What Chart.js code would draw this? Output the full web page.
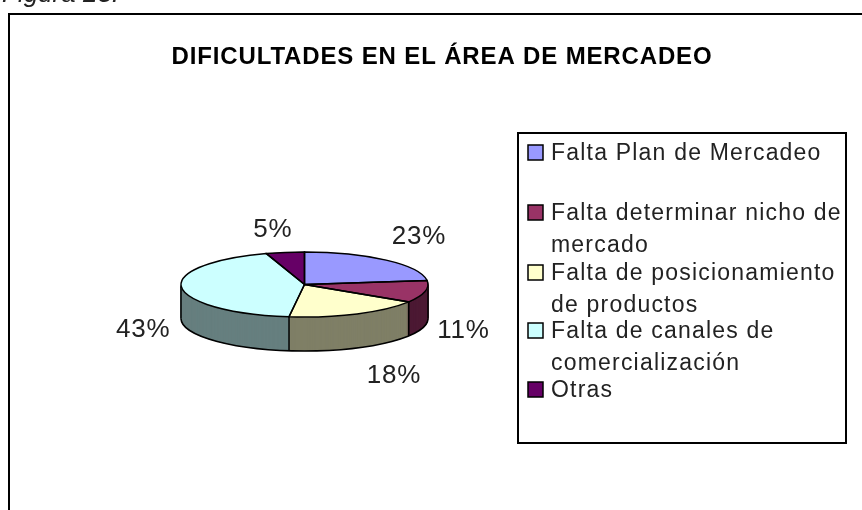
<!DOCTYPE html>
<html><head><meta charset="utf-8">
<style>html,body{margin:0;padding:0;background:#fff;overflow:hidden}#w{position:relative;width:862px;height:510px}</style>
<script src="https://cdn.jsdelivr.net/npm/chart.js@4"></script></head>
<body><div id="w"><canvas id="c" width="862" height="510"></canvas></div>
<script>
const categories = ["Falta Plan de Mercadeo","Falta determinar nicho de mercado","Falta de posicionamiento de productos","Falta de canales de comercialización","Otras"];
const legendLines = [["Falta Plan de Mercadeo"],["Falta determinar nicho de","mercado"],["Falta de posicionamiento","de productos"],["Falta de canales de","comercialización"],["Otras"]];
const values = [23,11,18,43,5];
const topColors = ["#9999FF","#993366","#FFFFCC","#CCFFFF","#660066"];
const sideColors = ["#4C4C7F","#4C1933","#7F7F66","#667F7F","#330033"];
const titleText = "DIFICULTADES EN EL ÁREA DE MERCADEO";
const captionText = "Figura 23.";

const CX=304.5, CY=284.5, R=123.5, RY=32.5, DEPTH=34;
const sq=RY/R;
function face(ctx,chart,dy,fn){
  const a=chart.getDatasetMeta(0).data[0];
  ctx.translate(CX,CY+dy);ctx.scale(1,sq);ctx.translate(-a.x,-a.y);fn(a);
}
const nudges=[[2,-4],[-7,0],[17,5],[8,6],[-5,3]];
const pie3d={id:'pie3d',
 beforeDraw(chart){
  const ctx=chart.ctx;
  ctx.save();
  ctx.fillStyle='#fff';ctx.fillRect(0,0,862,510);
  ctx.font='italic 26px "Liberation Sans"';ctx.fillStyle='#222';ctx.textBaseline='alphabetic';
  ctx.fillText(captionText,2,2);
  ctx.strokeStyle='#000';ctx.lineWidth=2;
  ctx.beginPath();ctx.moveTo(9,512);ctx.lineTo(9,14);ctx.lineTo(870,14);ctx.stroke();
  ctx.restore();
 },
 beforeDatasetsDraw(chart){
  const ctx=chart.ctx, arcs=chart.getDatasetMeta(0).data;
  for(let d=DEPTH;d>=1;d--){
    arcs.forEach((el,i)=>{
      ctx.save();
      face(ctx,chart,d,()=>{
        const o=el.options, bg=o.backgroundColor;
        o.backgroundColor=sideColors[i];
        el.draw(ctx);
        o.backgroundColor=bg;
      });
      ctx.restore();
    });
  }
  ctx.save();ctx.strokeStyle='#000';ctx.lineWidth=1.5;
  ctx.beginPath();ctx.ellipse(CX,CY+DEPTH,R,RY,0,0,Math.PI);ctx.stroke();
  [0,Math.PI].forEach(t=>{const x=CX+R*Math.cos(t);ctx.beginPath();ctx.moveTo(x,CY);ctx.lineTo(x,CY+DEPTH);ctx.stroke();});
  arcs.forEach(el=>{
    const s=Math.sin(el.endAngle),c=Math.cos(el.endAngle);
    if(s>0){const x=CX+R*c,y=CY+RY*s;ctx.beginPath();ctx.moveTo(x,y);ctx.lineTo(x,y+DEPTH);ctx.stroke();}
  });
  ctx.restore();
  arcs.forEach(el=>{ctx.save();face(ctx,chart,0,()=>el.draw(ctx));ctx.restore();});
  arcs.forEach(el=>{
    ctx.save();ctx.beginPath();
    ctx.moveTo(CX,CY);
    ctx.ellipse(CX,CY,R,RY,0,el.startAngle,el.endAngle);
    ctx.closePath();
    ctx.strokeStyle='#000';ctx.lineWidth=1.5;ctx.stroke();ctx.restore();
  });
  return false;
 },
 afterDraw(chart){
  const ctx=chart.ctx, arcs=chart.getDatasetMeta(0).data;
  ctx.save();
  ctx.font='bold 24px "Liberation Sans"';ctx.fillStyle='#000';ctx.textAlign='center';ctx.textBaseline='alphabetic';
  ctx.letterSpacing='0.85px';
  ctx.fillText(titleText,442,64);
  ctx.font='26px "Liberation Sans"';ctx.letterSpacing='0.8px';ctx.fillStyle='#222';ctx.textAlign='center';ctx.textBaseline='middle';
  arcs.forEach((el,i)=>{
    const m=(el.startAngle+el.endAngle)/2, s=Math.sin(m), c=Math.cos(m);
    const x=CX+170*c+nudges[i][0], y=CY+58*s+(s>0?DEPTH:0)+nudges[i][1];
    ctx.fillText(values[i]+'%',x,y);
  });
  ctx.strokeStyle='#000';ctx.lineWidth=2;ctx.strokeRect(518,133,328,310);
  ctx.textAlign='left';ctx.textBaseline='alphabetic';
  ctx.font='23px "Liberation Sans"';ctx.letterSpacing='1.2px';
  const ys=[[160],[220,252],[280,312],[338,370],[397]];
  legendLines.forEach((ls,i)=>{
    const t=ys[i][0];
    ctx.fillStyle=topColors[i];ctx.fillRect(528,t-15,15,15);
    ctx.strokeStyle='#000';ctx.lineWidth=1.5;ctx.strokeRect(528,t-15,15,15);
    ctx.fillStyle='#222';
    ls.forEach((l,j)=>ctx.fillText(l,551,ys[i][j]));
  });
  ctx.restore();
 }
};
new Chart(document.getElementById('c'),{
 type:'pie',
 data:{labels:categories,datasets:[{data:values,backgroundColor:topColors,borderWidth:0}]},
 options:{responsive:false,animation:false,
  layout:{padding:{left:181,right:433,top:40,bottom:60}},
  plugins:{legend:{display:false},tooltip:{enabled:false},title:{display:false}}
 },
 plugins:[pie3d]
});
</script></body></html>
